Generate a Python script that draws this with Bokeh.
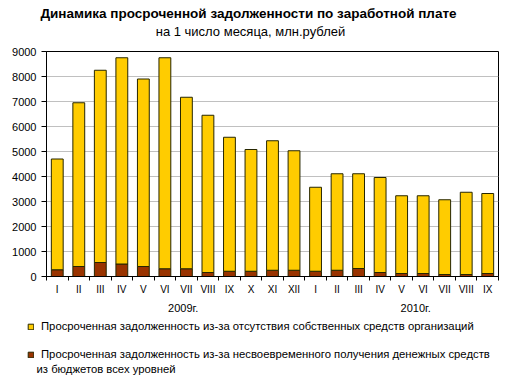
from bokeh.plotting import figure
from bokeh.layouts import column
from bokeh.models import (ColumnDataSource, Range1d, FixedTicker, Legend, LegendItem,
                          LinearAxis)
from bokeh.core.properties import value
from bokeh.embed import file_html
from bokeh.resources import INLINE

months = ["I", "II", "III", "IV", "V", "VI", "VII", "VIII", "IX", "X", "XI", "XII",
          "I", "II", "III", "IV", "V", "VI", "VII", "VIII", "IX"]
budget_debt = [270, 400, 560, 500, 400, 310, 310, 160, 210, 210, 250, 250,
               210, 250, 320, 160, 120, 120, 80, 80, 120]
own_funds_debt = [4430, 6550, 7690, 8250, 7500, 8440, 6860, 6290, 5360, 4870, 5180, 4780,
                  3360, 3860, 3790, 3800, 3110, 3110, 2990, 3290, 3200]
y_ticks = [0, 1000, 2000, 3000, 4000, 5000, 6000, 7000, 8000, 9000]
years = ["2009г.", "2010г."]
year_positions = [5.85, 16.65]
title_text = "Динамика просроченной задолженности по заработной плате"
subtitle_text = "на 1 число месяца, млн.рублей"
legend_own = "Просроченная задолженность из-за отсутствия собственных средств организаций"
legend_budget_1 = "Просроченная задолженность из-за несвоевременного получения денежных средств"
legend_budget_2 = "из бюджетов всех уровней"

FONT = "Liberation Sans"
YELLOW = "#FFCC00"
BROWN = "#993300"
EDGE = "#262600"
W = 512
n = len(months)
xs = list(range(n))


def blank_panel(height):
    f = figure(width=W, height=height, output_backend="svg", toolbar_location=None,
               x_range=Range1d(0, W), y_range=Range1d(0, height),
               x_axis_location=None, y_axis_location=None, tools="",
               min_border_left=0, min_border_right=0, min_border_top=0, min_border_bottom=0)
    f.frame_align = False
    f.title.visible = False
    f.outline_line_color = None
    f.xgrid.grid_line_color = None
    f.ygrid.grid_line_color = None
    f.background_fill_color = "white"
    f.border_fill_color = "white"
    return f


# ---------------- header ----------------
HEAD_H = 45
head = blank_panel(HEAD_H)
head.text(x=[248], y=[HEAD_H - 13], text=[title_text], text_align="center",
          text_baseline="middle", text_font=value(FONT), text_font_size="13.5px",
          text_font_style="bold", text_color="black")
head.text(x=[250], y=[HEAD_H - 31], text=[subtitle_text], text_align="center",
          text_baseline="middle", text_font=value(FONT), text_font_size="13px",
          text_color="black")

# ---------------- main chart ----------------
source = ColumnDataSource(dict(x=xs, budget=budget_debt, own=own_funds_debt))

p = figure(width=W, height=316 - HEAD_H, output_backend="svg", toolbar_location=None,
           x_range=Range1d(-0.5, n - 0.5), y_range=Range1d(0, 9000),
           min_border_left=46, min_border_right=14, min_border_top=51 - HEAD_H,
           min_border_bottom=40, tools="")
p.frame_align = False
p.title.visible = False
p.background_fill_color = "white"
p.border_fill_color = "white"
p.outline_line_color = "black"
p.outline_line_width = 1

p.vbar_stack(["budget", "own"], x="x", width=0.55, source=source,
             color=None, fill_color=[BROWN, YELLOW], line_color=EDGE, line_width=1)

p.xaxis.ticker = FixedTicker(ticks=xs, minor_ticks=[i - 0.5 for i in range(n + 1)])
p.xaxis.major_label_overrides = {i: m for i, m in enumerate(months)}
p.xaxis.major_tick_out = 0
p.xaxis.major_tick_in = 0
p.xaxis.minor_tick_out = 4
p.xaxis.minor_tick_in = 0
p.xaxis.minor_tick_line_color = "black"
p.xaxis.axis_line_color = "black"
p.xaxis.major_label_standoff = 3
p.xaxis.major_label_text_font = FONT
p.xaxis.major_label_text_font_size = "10px"
p.xaxis.major_label_text_color = "black"

year_axis = LinearAxis(ticker=FixedTicker(ticks=year_positions),
                       major_label_overrides={pos: y for pos, y in zip(year_positions, years)},
                       axis_line_color=None, major_tick_line_color=None,
                       minor_tick_line_color=None, major_tick_out=0, major_tick_in=0,
                       major_label_standoff=4, major_label_text_font=FONT,
                       major_label_text_font_size="11px", major_label_text_color="black")
p.add_layout(year_axis, "below")

p.yaxis.ticker = FixedTicker(ticks=y_ticks)
p.yaxis.major_tick_out = 5
p.yaxis.major_tick_in = 0
p.yaxis.minor_tick_line_color = None
p.yaxis.axis_line_color = "black"
p.yaxis.major_label_standoff = 5
p.yaxis.major_label_text_font = FONT
p.yaxis.major_label_text_font_size = "11px"
p.yaxis.major_label_text_color = "black"

p.xgrid.grid_line_color = None
p.ygrid.grid_line_color = "#C0C0C0"
p.ygrid.grid_line_width = 1

# ---------------- legend panel ----------------
LEG_H = 383 - 316
lg = blank_panel(LEG_H)
off = dict(x=[-100], top=[-100])
r_own = lg.vbar(x="x", top="top", width=1, source=ColumnDataSource(off),
                fill_color=YELLOW, line_color=EDGE, line_width=1)
r_bud = lg.vbar(x="x", top="top", width=1, source=ColumnDataSource(off),
                fill_color=BROWN, line_color=EDGE, line_width=1)
r_none = lg.vbar(x="x", top="top", width=1, source=ColumnDataSource(off),
                 fill_alpha=0, line_alpha=0)

legend = Legend(items=[LegendItem(label=legend_own, renderers=[r_own]),
                       LegendItem(label=" ", renderers=[r_none]),
                       LegendItem(label=legend_budget_1, renderers=[r_bud])],
                location=(27, 22), orientation="vertical",
                glyph_width=7, glyph_height=7, label_standoff=7,
                label_text_font=FONT, label_text_font_size="11.3px", label_text_color="black",
                label_height=14, spacing=0, padding=0, margin=0,
                border_line_color=None, background_fill_alpha=0)
lg.add_layout(legend, "center")
lg.text(x=[36], y=[LEG_H - (368 - 316)], text=[legend_budget_2], text_align="left",
        text_baseline="middle", text_font=value(FONT), text_font_size="11.3px",
        text_color="black")

layout = column(head, p, lg, spacing=0)
open("out.html", "w").write(file_html(layout, INLINE))
